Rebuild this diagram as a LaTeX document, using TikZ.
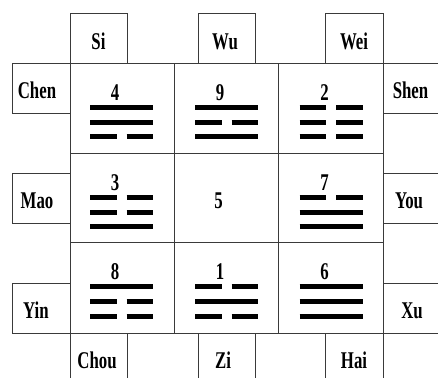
\documentclass[tikz,border=0pt]{standalone}
\usepackage{fontspec}
\newfontfamily\lblfont[FakeStretch=0.7]{Liberation Serif}
\usetikzlibrary{positioning}
\definecolor{gridline}{HTML}{3A3A3A}

\tikzset{
  cellline/.style={draw=gridline, line width=0.9pt},
  lbl/.style={font=\lblfont\bfseries\fontsize{24}{24}\selectfont,
    inner sep=0pt, text height=16pt, text depth=0pt},
  bar/.style={line width=5pt, line cap=butt},
}

\begin{document}
\begin{tikzpicture}[x=1pt, y=-1pt]
  \useasboundingbox (0,0) rectangle (438,378);

  % square of nine cells
  \draw[cellline] (70,63) rectangle (383,333);
  \draw[cellline] (174,63) -- (174,333) (278.5,63) -- (278.5,333);
  \draw[cellline] (70,153) -- (383,153) (70,242.5) -- (383,242.5);

  % branch boxes round it
  \draw[cellline] (70,63) |- (127,13) -- (127,63);
  \draw[cellline] (198,63) |- (255,13) -- (255,63);
  \draw[cellline] (325,63) |- (383,13) -- (383,63);
  \draw[cellline] (70,63) -| (12,113) -- (70,113);
  \draw[cellline] (70,173) -| (12,223) -- (70,223);
  \draw[cellline] (70,283) -| (12,333) -- (70,333);
  \draw[cellline] (383,63) -- (438,63) (383,113) -- (438,113);
  \draw[cellline] (383,173) -- (438,173) (383,223) -- (438,223);
  \draw[cellline] (383,283) -- (438,283) (383,333) -- (438,333);
  \draw[cellline] (70,333) -- (70,378) (127,333) -- (127,378);
  \draw[cellline] (198,333) -- (198,378) (255,333) -- (255,378);
  \draw[cellline] (325,333) -- (325,378) (383,333) -- (383,378);

  \node[lbl] (si) at (98.5,41.5) {Si};
  \node[lbl] (wu) at (225,41.5) {Wu};
  \node[lbl] (wei) at (354,41.5) {Wei};
  \node[lbl] (chen) at (37,90) {Chen};
  \node[lbl] (mao) at (37,200) {Mao};
  \node[lbl] (yin) at (36,310) {Yin};
  \node[lbl] (shen) at (410.5,90) {Shen};
  \node[lbl] (you) at (409,200) {You};
  \node[lbl] (xu) at (412,310) {Xu};
  \node[lbl] (chou) at (97,360) {Chou};
  \node[lbl] (zi) at (223,360) {Zi};
  \node[lbl] (hai) at (354,360) {Hai};

  % numbers and trigrams, 1 = whole line, 0 = broken line
  \foreach \cx/\cy/\num/\la/\lb/\lc in {
      121.5/63/4/1/1/0, 226.5/63/9/1/0/1, 331/63/2/0/0/0,
      121.5/153/3/0/0/1, 331/153/7/0/1/1,
      121.5/242.5/8/1/0/0, 226.5/242.5/1/0/1/0, 331/242.5/6/1/1/1} {
    \node[lbl] (n\num) at (\cx-6.5,\cy+29) {\num};
    \foreach \ly/\kind in {44/\la, 59/\lb, 73.5/\lc} {
      \ifnum\kind=1
        \draw[bar] (\cx-31.5,\cy+\ly) -- (\cx+31.5,\cy+\ly);
      \else
        \draw[bar] (\cx-31.5,\cy+\ly) -- (\cx-5,\cy+\ly)
          (\cx+5,\cy+\ly) -- (\cx+31.5,\cy+\ly);
      \fi
    }
  }
  \node[lbl] (n5) at (218.5,200) {5};
\end{tikzpicture}
\end{document}
